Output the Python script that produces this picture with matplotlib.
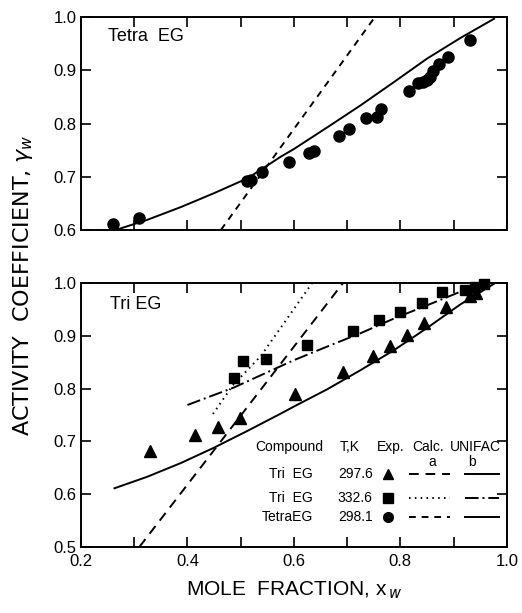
import matplotlib
matplotlib.use('Agg')
import matplotlib.pyplot as plt
import numpy as np

plt.rcParams['font.family'] = ['Liberation Sans', 'DejaVu Sans']
plt.rcParams['mathtext.fontset'] = 'dejavusans'

# Tetra EG, 298.1 K
tetra_x = [0.260, 0.310, 0.512, 0.519, 0.540, 0.590, 0.629, 0.638, 0.684,
           0.703, 0.736, 0.756, 0.763, 0.817, 0.834, 0.843, 0.850, 0.856,
           0.861, 0.872, 0.890, 0.930]
tetra_y = [0.611, 0.622, 0.691, 0.694, 0.708, 0.727, 0.744, 0.749, 0.776,
           0.789, 0.811, 0.813, 0.827, 0.862, 0.876, 0.879, 0.882, 0.887,
           0.898, 0.912, 0.926, 0.957]
tetra_unifac_x = [0.266, 0.325, 0.388, 0.450, 0.513, 0.576, 0.600, 0.663,
                  0.725, 0.788, 0.850, 0.913, 0.976]
tetra_unifac_y = [0.600, 0.619, 0.643, 0.669, 0.697, 0.738, 0.752, 0.793,
                  0.834, 0.878, 0.922, 0.961, 0.997]
tetra_calc_x = [0.463, 0.752]
tetra_calc_y = [0.600, 1.000]

# Tri EG, 297.6 K
tri1_x = [0.329, 0.415, 0.457, 0.499, 0.602, 0.693, 0.748, 0.780, 0.812,
          0.844, 0.885, 0.930, 0.942]
tri1_y = [0.681, 0.712, 0.728, 0.744, 0.789, 0.832, 0.862, 0.881, 0.902,
          0.925, 0.955, 0.975, 0.982]
tri1_unifac_x = [0.263, 0.325, 0.388, 0.450, 0.513, 0.576, 0.600, 0.663,
                 0.725, 0.788, 0.850, 0.913, 0.976]
tri1_unifac_y = [0.611, 0.633, 0.659, 0.688, 0.720, 0.753, 0.766, 0.799,
                 0.835, 0.873, 0.915, 0.960, 0.999]
tri1_calc_x = [0.310, 0.692]
tri1_calc_y = [0.500, 1.000]

# Tri EG, 332.6 K
tri2_x = [0.488, 0.504, 0.548, 0.624, 0.711, 0.760, 0.800, 0.841, 0.878,
          0.922, 0.940, 0.957]
tri2_y = [0.821, 0.852, 0.856, 0.883, 0.910, 0.930, 0.946, 0.963, 0.983,
          0.987, 0.992, 0.999]
tri2_unifac_x = [0.400, 0.487, 0.600, 0.663, 0.725, 0.788, 0.850, 0.913,
                 0.957]
tri2_unifac_y = [0.769, 0.802, 0.854, 0.880, 0.905, 0.933, 0.958, 0.984,
                 0.999]
tri2_calc_x = [0.448, 0.485, 0.538, 0.634]
tri2_calc_y = [0.752, 0.806, 0.862, 1.000]

legend_rows = [('Tri  EG', '297.6', '^'), ('Tri  EG', '332.6', 's'),
               ('TetraEG', '298.1', 'o')]
legend_calc = [(0, (5, 3.5)), (0, (0.8, 2.2)), (0, (3.5, 3))]
legend_unifac = ['-', (0, (7, 2, 1, 2)), '-']

fig = plt.figure(figsize=(5.22, 6.13), dpi=100)
ax1 = fig.add_axes([0.155, 0.625, 0.816, 0.347])
ax2 = fig.add_axes([0.155, 0.108, 0.816, 0.430])

lw = 1.4
for ax in (ax1, ax2):
    ax.set_xlim(0.2, 1.0)
    ax.set_xticks(np.arange(0.2, 1.01, 0.1))
    ax.tick_params(direction='in', length=7, width=1.2, top=True, right=True,
                   labelsize=12, pad=3)
    ax.tick_params(axis='x', pad=5)
    for s in ax.spines.values():
        s.set_linewidth(1.4)

ax1.set_ylim(0.6, 1.0)
ax1.set_yticks([0.6, 0.7, 0.8, 0.9, 1.0])
ax1.set_yticklabels(['0.6', '0.7', '0.8', '0.9', '1.0'])
ax1.set_xticklabels([])

ax2.set_ylim(0.5, 1.0)
ax2.set_yticks([0.5, 0.6, 0.7, 0.8, 0.9, 1.0])
ax2.set_yticklabels(['0.5', '0.6', '0.7', '0.8', '0.9', '1.0'])
ax2.set_xticklabels(['0.2', '', '0.4', '', '0.6', '', '0.8', '', '1.0'])

# top panel
ax1.plot(tetra_unifac_x, tetra_unifac_y, '-', color='k', lw=lw)
ax1.plot(tetra_calc_x, tetra_calc_y, color='k', lw=lw, linestyle=(0, (3.5, 3)))
ax1.plot(tetra_x, tetra_y, 'o', color='k', ms=8, clip_on=False)
ax1.text(0.063, 0.95, 'Tetra  EG', transform=ax1.transAxes, fontsize=13,
         va='top', ha='left')

# bottom panel
ax2.plot(tri1_unifac_x, tri1_unifac_y, '-', color='k', lw=lw)
ax2.plot(tri1_calc_x, tri1_calc_y, color='k', lw=lw, linestyle=(0, (5, 3.5)))
ax2.plot(tri2_unifac_x, tri2_unifac_y, color='k', lw=lw,
         linestyle=(0, (7, 2, 1, 2)))
ax2.plot(tri2_calc_x, tri2_calc_y, color='k', lw=lw, linestyle=(0, (0.8, 2.2)))
ax2.plot(tri1_x, tri1_y, '^', color='k', ms=9, clip_on=False)
ax2.plot(tri2_x, tri2_y, 's', color='k', ms=7, clip_on=False)
ax2.text(0.068, 0.95, 'Tri EG', transform=ax2.transAxes, fontsize=13,
         va='top', ha='left')

# legend table
tr = ax2.transAxes
fs = 10
hy = 0.377
ax2.text(0.489, hy, 'Compound', transform=tr, fontsize=fs, ha='center', va='center')
ax2.text(0.631, hy, 'T,K', transform=tr, fontsize=fs, ha='center', va='center')
ax2.text(0.727, hy, 'Exp.', transform=tr, fontsize=fs, ha='center', va='center')
ax2.text(0.815, hy, 'Calc.', transform=tr, fontsize=fs, ha='center', va='center')
ax2.text(0.925, hy, 'UNIFAC', transform=tr, fontsize=fs, ha='center', va='center')
ax2.text(0.826, 0.322, 'a', transform=tr, fontsize=fs, ha='center', va='center')
ax2.text(0.918, 0.322, 'b', transform=tr, fontsize=fs, ha='center', va='center')
row_y = [0.277, 0.186, 0.114]
for (name, temp, mk), ls_a, ls_b, y in zip(legend_rows, legend_calc,
                                           legend_unifac, row_y):
    ax2.text(0.545, y, name, transform=tr, fontsize=fs, ha='right', va='center')
    ax2.text(0.685, y, temp, transform=tr, fontsize=fs, ha='right', va='center')
    ax2.plot([0.721], [y], mk, color='k', ms=7, transform=tr)
    ax2.plot([0.770, 0.866], [y, y], color='k', lw=lw, linestyle=ls_a,
             transform=tr)
    ax2.plot([0.901, 0.981], [y, y], color='k', lw=lw, linestyle=ls_b,
             transform=tr)

ax2.set_xlabel(r'MOLE  FRACTION, x$_{\,w}$', fontsize=15, labelpad=8)
fig.text(0.045, 0.535, r'ACTIVITY  COEFFICIENT, $\gamma_{w}$', rotation=90,
         fontsize=16, ha='center', va='center', family='DejaVu Sans')

fig.savefig('out.png', dpi=100)
